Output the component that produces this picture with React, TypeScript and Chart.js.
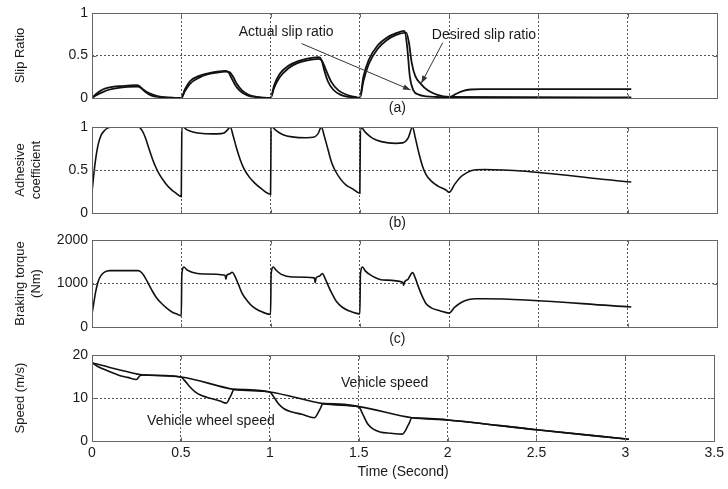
import React, { useEffect, useRef } from "react";
import { Chart, registerables } from "chart.js";
Chart.register(...registerables);

const W = 728;
const H = 489;
const FONT = "'Liberation Sans', Arial, Helvetica, sans-serif";

// ---------------- data ----------------
const xMax = 3.5;
const xStep = 0.5;

// (a) slip ratio
const slipActualT = [0, 0.03, 0.06, 0.1, 0.15, 0.2, 0.25, 0.265, 0.28, 0.3, 0.33, 0.38, 0.43, 0.5,
  0.52, 0.55, 0.6, 0.65, 0.7, 0.75, 0.765, 0.78, 0.8, 0.83, 0.87, 0.92, 1.0,
  1.02, 1.05, 1.1, 1.15, 1.2, 1.27, 1.285, 1.3, 1.32, 1.35, 1.39, 1.44, 1.5,
  1.52, 1.55, 1.6, 1.65, 1.7, 1.75, 1.765, 1.78, 1.8, 1.83, 1.87, 1.93, 2.0, 2.04, 2.08, 2.12, 2.18, 3.02];
const slipActual = [0, 0.06, 0.1, 0.125, 0.14, 0.145, 0.15, 0.14, 0.11, 0.07, 0.03, 0.01, 0.003, 0,
  0.1, 0.2, 0.26, 0.29, 0.31, 0.32, 0.3, 0.24, 0.16, 0.08, 0.03, 0.01, 0,
  0.15, 0.28, 0.38, 0.43, 0.46, 0.48, 0.45, 0.33, 0.2, 0.1, 0.04, 0.012, 0,
  0.25, 0.45, 0.62, 0.71, 0.76, 0.79, 0.6, 0.25, 0.09, 0.04, 0.02, 0.012, 0.01, 0.05, 0.085, 0.1, 0.105, 0.105];

const slipDesiredT = [0, 0.03, 0.06, 0.1, 0.15, 0.2, 0.25, 0.265, 0.28, 0.3, 0.34, 0.38, 0.44, 0.5,
  0.52, 0.55, 0.6, 0.65, 0.7, 0.75, 0.77, 0.79, 0.81, 0.84, 0.88, 0.93, 0.97, 1.0,
  1.02, 1.05, 1.1, 1.15, 1.2, 1.27, 1.29, 1.31, 1.34, 1.38, 1.43, 1.48, 1.5,
  1.52, 1.55, 1.6, 1.65, 1.7, 1.76, 1.775, 1.79, 1.81, 1.84, 1.88, 1.93, 2.0, 3.02];
const slipDesired = [0, 0.04, 0.07, 0.1, 0.12, 0.13, 0.135, 0.13, 0.11, 0.08, 0.04, 0.015, 0.003, 0,
  0.08, 0.17, 0.24, 0.28, 0.3, 0.31, 0.305, 0.25, 0.17, 0.09, 0.035, 0.01, 0.003, 0,
  0.12, 0.24, 0.35, 0.41, 0.44, 0.46, 0.43, 0.33, 0.19, 0.09, 0.035, 0.01, 0,
  0.2, 0.4, 0.58, 0.68, 0.74, 0.77, 0.65, 0.42, 0.26, 0.17, 0.09, 0.04, 0.012, 0.008];

// (b) adhesive coefficient
const adhesiveT = [0, 0.01, 0.02, 0.035, 0.05, 0.07, 0.09, 0.11, 0.26, 0.28, 0.3, 0.32, 0.34, 0.36, 0.38, 0.41, 0.44, 0.47, 0.5,
  0.503, 0.51, 0.53, 0.57, 0.62, 0.7, 0.74, 0.76, 0.775, 0.79, 0.81, 0.83, 0.85, 0.88, 0.91, 0.95, 1.0,
  1.003, 1.01, 1.03, 1.07, 1.12, 1.2, 1.24, 1.265, 1.285, 1.3, 1.32, 1.34, 1.36, 1.39, 1.42, 1.46, 1.5,
  1.503, 1.51, 1.53, 1.57, 1.62, 1.7, 1.74, 1.77, 1.795, 1.81, 1.83, 1.85, 1.87, 1.9, 1.94, 1.98, 2.0, 2.03, 2.06, 2.1, 2.14, 2.2, 3.02];
const adhesive = [0.24, 0.45, 0.62, 0.8, 0.9, 0.96, 0.99, 1.0, 1.0, 0.96, 0.87, 0.74, 0.62, 0.52, 0.44, 0.35, 0.28, 0.23, 0.19,
  0.98, 1.0, 0.97, 0.94, 0.925, 0.92, 0.93, 0.97, 1.0, 0.9, 0.75, 0.62, 0.52, 0.42, 0.35, 0.28, 0.22,
  0.97, 1.0, 0.96, 0.91, 0.885, 0.875, 0.88, 0.92, 1.0, 0.9, 0.75, 0.6, 0.5, 0.4, 0.33, 0.28, 0.23,
  0.96, 0.99, 0.94, 0.87, 0.83, 0.81, 0.815, 0.87, 1.0, 0.88, 0.7, 0.55, 0.45, 0.37, 0.31, 0.27, 0.24, 0.33, 0.41, 0.47, 0.5, 0.505, 0.36];

// (c) braking torque (Nm)
const torqueT = [0, 0.01, 0.02, 0.035, 0.05, 0.07, 0.1, 0.26, 0.28, 0.3, 0.32, 0.34, 0.36, 0.39, 0.42, 0.45, 0.48, 0.5,
  0.503, 0.515, 0.53, 0.56, 0.62, 0.745, 0.75, 0.755, 0.77, 0.785, 0.8, 0.82, 0.84, 0.87, 0.9, 0.94, 1.0,
  1.003, 1.015, 1.03, 1.06, 1.12, 1.245, 1.25, 1.255, 1.275, 1.29, 1.305, 1.325, 1.345, 1.37, 1.4, 1.44, 1.5,
  1.503, 1.515, 1.53, 1.57, 1.63, 1.74, 1.745, 1.75, 1.77, 1.795, 1.81, 1.83, 1.85, 1.87, 1.9, 1.95, 2.0, 2.03, 2.07, 2.11, 2.15, 2.2, 3.02];
const torque = [300, 550, 800, 1050, 1180, 1260, 1295, 1295, 1240, 1120, 960, 810, 680, 540, 430, 340, 290, 260,
  1200, 1380, 1320, 1260, 1220, 1190, 1100, 1190, 1220, 1260, 1170, 980, 780, 600, 470, 370, 290,
  1200, 1380, 1310, 1210, 1150, 1130, 1020, 1130, 1170, 1230, 1120, 930, 760, 580, 460, 370, 300,
  1200, 1380, 1290, 1170, 1080, 1030, 960, 1030, 1100, 1250, 1130, 900, 700, 540, 440, 370, 320, 450, 570, 630, 650, 650, 460];

// (d) speed (m/s)
const vehicleT = [0, 0.1, 0.2, 0.28, 0.5, 0.8, 1.0, 1.3, 1.5, 1.8, 2.0, 2.5, 3.02];
const vehicleSpeed = [18.2, 17.1, 16.1, 15.4, 14.9, 12.0, 11.4, 8.7, 8.0, 5.4, 4.9, 2.6, 0.4];
const wheelT = [0, 0.03, 0.06, 0.1, 0.15, 0.2, 0.25, 0.27, 0.29,
  0.5, 0.52, 0.55, 0.58, 0.62, 0.67, 0.72, 0.755, 0.78, 0.8,
  1.0, 1.02, 1.05, 1.08, 1.12, 1.18, 1.25, 1.28, 1.3,
  1.5, 1.52, 1.55, 1.58, 1.62, 1.68, 1.745, 1.78, 1.8,
  2.0, 2.5, 3.02];
const wheelSpeed = [18.2, 17.4, 16.8, 16.1, 15.3, 14.8, 14.3, 15.2, 15.35,
  14.9, 14.1, 12.6, 11.4, 10.5, 9.9, 9.3, 8.8, 10.5, 12.0,
  11.4, 10.4, 8.6, 7.5, 6.8, 6.2, 5.4, 7.2, 8.7,
  8.0, 6.5, 4.0, 2.8, 2.1, 1.8, 1.6, 3.8, 5.4,
  4.9, 2.6, 0.4];

// ---------------- rendering ----------------
type Series = { t: number[]; v: number[]; width: number; tension?: boolean };
type Note = { text: string; x: number; y?: number; below?: number };
type Arrow = { x1: number; y1: number; x2: number; y2: number };
type PanelSpec = {
  top: number;
  bottom: number;
  yMin: number;
  yMax: number;
  yStep: number;
  yTitle: string | string[];
  series: Series[];
  showX: boolean;
  notes: Note[];
  arrows: Arrow[];
};

const pts = (t: number[], v: number[]) => t.map((x, i) => ({ x, y: v[i] }));

const PANELS: PanelSpec[] = [
  {
    top: 13, bottom: 98, yMin: 0, yMax: 1, yStep: 0.5, yTitle: "Slip Ratio",
    series: [
      { t: slipActualT, v: slipActual, width: 1.8 },
      { t: slipDesiredT, v: slipDesired, width: 1.8 },
    ],
    showX: false,
    notes: [
      { text: "Actual slip ratio", x: 1.087, y: 0.776 },
      { text: "Desired slip ratio", x: 2.195, y: 0.74 },
      { text: "(a)", x: 1.71, below: 10 },
    ],
    arrows: [
      { x1: 1.174, y1: 0.64, x2: 1.784, y2: 0.094 },
      { x1: 1.964, y1: 0.65, x2: 1.844, y2: 0.173 },
    ],
  },
  {
    top: 127, bottom: 213, yMin: 0, yMax: 1, yStep: 0.5, yTitle: ["Adhesive", "coefficient"],
    series: [{ t: adhesiveT, v: adhesive, width: 1.6 }],
    showX: false,
    notes: [{ text: "(b)", x: 1.71, below: 10 }],
    arrows: [],
  },
  {
    top: 240, bottom: 327, yMin: 0, yMax: 2000, yStep: 1000, yTitle: ["Braking torque", "(Nm)"],
    series: [{ t: torqueT, v: torque, width: 1.6 }],
    showX: false,
    notes: [{ text: "(c)", x: 1.71, below: 12 }],
    arrows: [],
  },
  {
    top: 355, bottom: 441, yMin: 0, yMax: 20, yStep: 10, yTitle: "Speed (m/s)",
    series: [
      { t: vehicleT, v: vehicleSpeed, width: 1.6 },
      { t: wheelT, v: wheelSpeed, width: 1.6 },
    ],
    showX: true,
    notes: [
      { text: "Vehicle speed", x: 1.646, y: 13.5 },
      { text: "Vehicle wheel speed", x: 0.669, y: 4.6 },
    ],
    arrows: [],
  },
];

const TEXT = "#1a1a1a";
const GRID = "#555";
const FRAME = "#666";

function makeDecor(spec: PanelSpec) {
  return {
    id: "decor",
    afterDraw(chart: any) {
      const { ctx, chartArea: a, scales } = chart;
      const xs = scales.x;
      const ys = scales.y;
      ctx.save();
      // frame
      ctx.strokeStyle = FRAME;
      ctx.lineWidth = 1;
      ctx.setLineDash([]);
      const L = Math.round(a.left) + 0.5;
      const T = Math.round(a.top) + 0.5;
      const R = Math.round(a.right) + 0.5;
      const B = Math.round(a.bottom) + 0.5;
      ctx.strokeRect(L, T, R - L, B - T);
      // inner tick marks
      const tl = 4;
      ctx.beginPath();
      xs.ticks.forEach((tk: any) => {
        const px = Math.round(xs.getPixelForValue(tk.value)) + 0.5;
        ctx.moveTo(px, B); ctx.lineTo(px, B - tl);
        ctx.moveTo(px, T); ctx.lineTo(px, T + tl);
      });
      ys.ticks.forEach((tk: any) => {
        const py = Math.round(ys.getPixelForValue(tk.value)) + 0.5;
        ctx.moveTo(L, py); ctx.lineTo(L + tl, py);
        ctx.moveTo(R, py); ctx.lineTo(R - tl, py);
      });
      ctx.stroke();

      // notes
      ctx.fillStyle = TEXT;
      ctx.font = `14px ${FONT}`;
      ctx.textAlign = "center";
      ctx.textBaseline = "middle";
      spec.notes.forEach((n) => {
        const px = xs.getPixelForValue(n.x);
        const py = n.below !== undefined ? a.bottom + n.below : ys.getPixelForValue(n.y as number);
        ctx.fillText(n.text, px, py);
      });

      // arrows
      ctx.strokeStyle = "#333";
      ctx.fillStyle = "#333";
      ctx.lineWidth = 1;
      spec.arrows.forEach((ar) => {
        const x1 = xs.getPixelForValue(ar.x1);
        const y1 = ys.getPixelForValue(ar.y1);
        const x2 = xs.getPixelForValue(ar.x2);
        const y2 = ys.getPixelForValue(ar.y2);
        ctx.beginPath();
        ctx.moveTo(x1, y1);
        ctx.lineTo(x2, y2);
        ctx.stroke();
        const ang = Math.atan2(y2 - y1, x2 - x1);
        const hl = 8;
        const hw = 0.35;
        ctx.beginPath();
        ctx.moveTo(x2, y2);
        ctx.lineTo(x2 - hl * Math.cos(ang - hw), y2 - hl * Math.sin(ang - hw));
        ctx.lineTo(x2 - hl * Math.cos(ang + hw), y2 - hl * Math.sin(ang + hw));
        ctx.closePath();
        ctx.fill();
      });
      ctx.restore();
    },
  };
}

function Panel({ spec }: { spec: PanelSpec }) {
  const ref = useRef<HTMLCanvasElement | null>(null);
  useEffect(() => {
    if (!ref.current) return;
    const xH = spec.showX ? H - spec.bottom : 0;
    const chart = new Chart(ref.current, {
      type: "line",
      data: {
        datasets: spec.series.map((s) => ({
          data: pts(s.t, s.v),
          borderColor: "#111",
          borderWidth: s.width,
          pointRadius: 0,
          fill: false,
          cubicInterpolationMode: "monotone" as const,
        })),
      },
      options: {
        animation: false,
        responsive: false,
        events: [],
        layout: {
          padding: {
            left: 0,
            right: W - 717,
            top: spec.top,
            bottom: spec.showX ? 0 : H - spec.bottom,
          },
        },
        plugins: { legend: { display: false }, tooltip: { enabled: false } },
        scales: {
          x: {
            type: "linear",
            min: 0,
            max: xMax,
            afterFit: (s: any) => { s.height = xH; },
            ticks: {
              display: spec.showX,
              stepSize: xStep,
              padding: 4,
              color: TEXT,
              font: { family: FONT, size: 14 },
              maxRotation: 0,
              callback: (v: any) => String(v),
            },
            grid: { color: GRID, lineWidth: 1, drawTicks: false },
            border: { display: false, dash: [2, 2] },
            title: {
              display: spec.showX,
              text: "Time (Second)",
              color: TEXT,
              font: { family: FONT, size: 14 },
              padding: { top: 0, bottom: 8 },
            },
          },
          y: {
            type: "linear",
            min: spec.yMin,
            max: spec.yMax,
            afterFit: (s: any) => { s.width = 92; },
            ticks: {
              stepSize: spec.yStep,
              padding: 4,
              color: TEXT,
              font: { family: FONT, size: 14 },
              callback: (v: any) => String(v),
            },
            grid: { color: GRID, lineWidth: 1, drawTicks: false },
            border: { display: false, dash: [2, 2] },
            title: {
              display: true,
              text: spec.yTitle,
              color: TEXT,
              font: { family: FONT, size: 13 },
              padding: { top: 13, bottom: 0 },
            },
          },
        },
      },
      plugins: [makeDecor(spec)],
    } as any);
    return () => chart.destroy();
  }, [spec]);
  return (
    <canvas
      ref={ref}
      width={W}
      height={H}
      style={{ position: "absolute", left: 0, top: 0, width: W, height: H }}
    />
  );
}

export default function App() {
  return (
    <div
      style={{
        position: "fixed",
        left: 0,
        top: 0,
        width: W,
        height: H,
        background: "#fff",
        overflow: "hidden",
      }}
    >
      {PANELS.map((p, i) => (
        <Panel key={i} spec={p} />
      ))}
    </div>
  );
}
